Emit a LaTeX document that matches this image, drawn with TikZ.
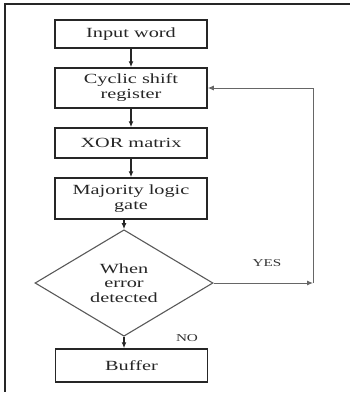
\documentclass[tikz,border=0pt]{standalone}
\usepackage{fontspec}
\setmainfont{Liberation Serif}[FakeStretch=1.45]
\usetikzlibrary{shapes.geometric, arrows.meta}

\begin{document}
\begin{tikzpicture}[x=1pt, y=-1pt,
    block/.style={rectangle, draw=black!85, line width=1.5pt, minimum width=152pt, inner sep=0pt, align=center, font=\fontsize{14}{15}\selectfont, text=black!85},
    decision/.style={diamond, draw=black!65, line width=1.1pt, minimum width=178pt, minimum height=88pt, inner sep=0pt, align=center, font=\fontsize{14}{14.5}\selectfont, text=black!85},
    link/.style={-{Latex[length=6pt,width=5pt]}, draw=black!85, line width=1.2pt},
    loop/.style={-{Latex[length=6pt,width=5pt]}, draw=black!60, line width=1pt},
    tag/.style={font=\fontsize{10.5}{12}\selectfont, text=black!80}]
    \useasboundingbox (0,0) rectangle (350,394);

    % frame
    \draw[black!85, line width=1.4pt] (350,4) -- (5,4) -- (5,392);

    % MAIN COLUMN
    \node (Input) [block, minimum height=28pt] at (131,34) {Input word};
    \node (Shift) [block, minimum height=40pt] at (131,88) {Cyclic shift\\register};
    \node (Xor) [block, minimum height=30pt] at (131,143) {XOR matrix};
    \node (Majority) [block, minimum height=41pt] at (131,198.5) {Majority logic\\gate};
    \node (Check) [decision] at (124,283) {When\\error\\detected};
    \node (Buffer) [block, minimum height=33pt] at (131.5,365.5) {Buffer};

    \draw[link] (Input) -- (Shift);
    \draw[link] (Shift) -- (Xor);
    \draw[link] (Xor) -- (Majority);
    \draw[link] (Majority.south -| Check.north) -- (Check.north);
    \draw[link] (Check.south) -- (Check.south |- Buffer.north);

    % FEEDBACK LOOP
    \coordinate (Turn) at (313,283);
    \draw[loop] (Check.east) -- (Turn);
    \draw[loop] (Turn) |- (Shift.east);
    \node (Yes) [tag] at (267,263) {YES};
    \node (No) [tag] at (187,338) {NO};
\end{tikzpicture}
\end{document}
